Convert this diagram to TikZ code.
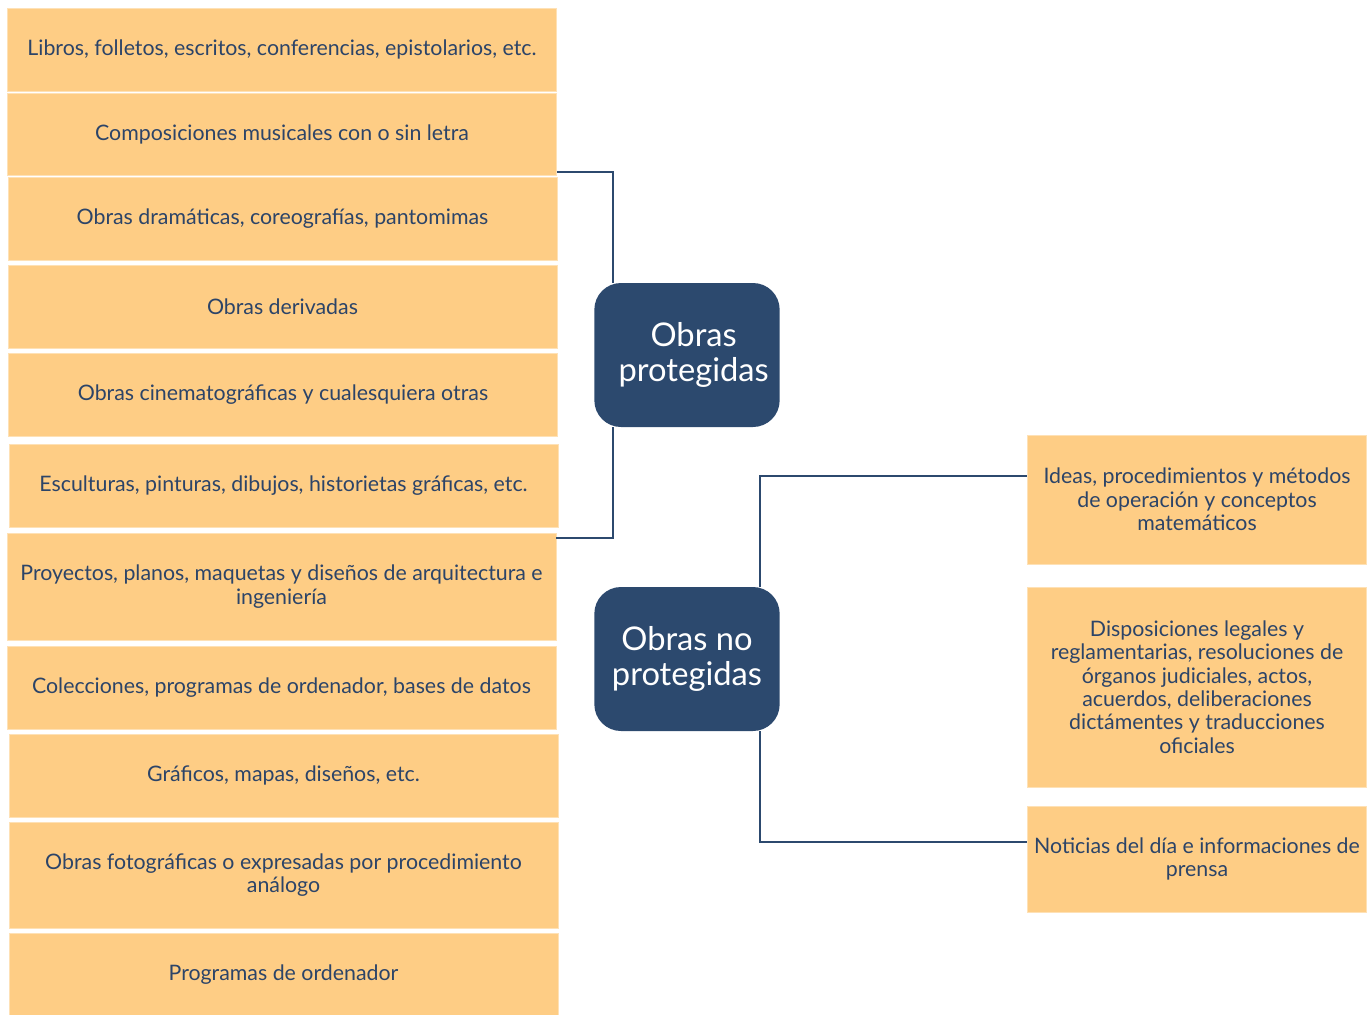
\documentclass[tikz,border=0pt]{standalone}
\usepackage{fontspec}
\setmainfont{Lato}
\usetikzlibrary{positioning, calc}
\definecolor{boxorange}{RGB}{254,205,133}
\definecolor{headblue}{RGB}{44,73,110}
\definecolor{inkblue}{RGB}{44,68,104}
\tikzset{
    item/.style={rectangle, fill=boxorange, draw=boxorange!60!white, line width=0.4pt, minimum width=412pt, inner sep=2pt, align=center, text=inkblue, font=\fontsize{16}{17.6}\selectfont},
    side/.style={item, minimum width=254pt},
    head/.style={rectangle, rounded corners=20pt, fill=headblue, minimum width=139pt, minimum height=108pt, align=center, text=white, font=\fontsize{24.5}{26.5}\selectfont},
    link/.style={draw=headblue, line width=1.6pt},
}
\begin{document}
\begin{tikzpicture}[x=0.75pt, y=-0.75pt]
    \useasboundingbox (0,0) rectangle (1370,1014);
    % left column
    \node[item, minimum height=62pt] (b1) at (282,49.5) {Libros, folletos, escritos, conferencias, epistolarios, etc.};
    \node[item, minimum height=61.5pt] (b2) at (282,134) {Composiciones musicales con o sin letra};
    \node[item, minimum height=62pt] (b3) at (282.5,218.5) {Obras dramáticas, coreografías, pantomimas};
    \node[item, minimum height=62pt] (b4) at (282.5,306.5) {Obras derivadas};
    \node[item, minimum height=62pt] (b5) at (283,394.5) {Obras cinematográficas y cualesquiera otras};
    \node[item, minimum height=62pt] (b6) at (283.5,485.5) {Esculturas, pinturas, dibujos, historietas gráficas, etc.};
    \node[item, minimum height=80pt] (b7) at (281.5,586.5) {Proyectos, planos, maquetas y diseños de arquitectura e\\ingeniería};
    \node[item, minimum height=62pt] (b8) at (281.5,687.5) {Colecciones, programas de ordenador, bases de datos};
    \node[item, minimum height=62pt] (b9) at (283.5,775.5) {Gráficos, mapas, diseños, etc.};
    \node[item, minimum height=79.5pt] (b10) at (283.5,875) {Obras fotográficas o expresadas por procedimiento\\análogo};
    \node[item, minimum height=62pt] (b11) at (283.5,975) {Programas de ordenador};
    % central nodes
    \node[head] (prot) at (687,355) {\hspace*{10pt}Obras\\\hspace*{10pt}protegidas};
    \node[head] (noprot) at (687,659) {Obras no\\protegidas};
    % right column
    \node[side, minimum height=97pt] (r1) at (1197,499.5) {Ideas, procedimientos y métodos\\de operación y conceptos\\matemáticos};
    \node[side, minimum height=150pt] (r2) at (1197,687) {Disposiciones legales y\\reglamentarias, resoluciones de\\órganos judiciales, actos,\\acuerdos, deliberaciones\\dictámentes y traducciones\\oficiales};
    \node[side, minimum height=79.5pt] (r3) at (1197,859) {Noticias del día e informaciones de\\prensa};
    % connectors
    \draw[link] ([yshift=2.25pt]b2.south east) -| ([xshift=14.25pt]prot.north west);
    \draw[link] ([xshift=14.25pt]prot.south west) |- ([yshift=-3.75pt]b7.north east);
    \draw[link] ([xshift=-15pt]noprot.north east) |- ([yshift=17.6pt]r1.west);
    \draw[link] ([xshift=-15pt]noprot.south east) |- ([yshift=12.75pt]r3.west);
\end{tikzpicture}
\end{document}
